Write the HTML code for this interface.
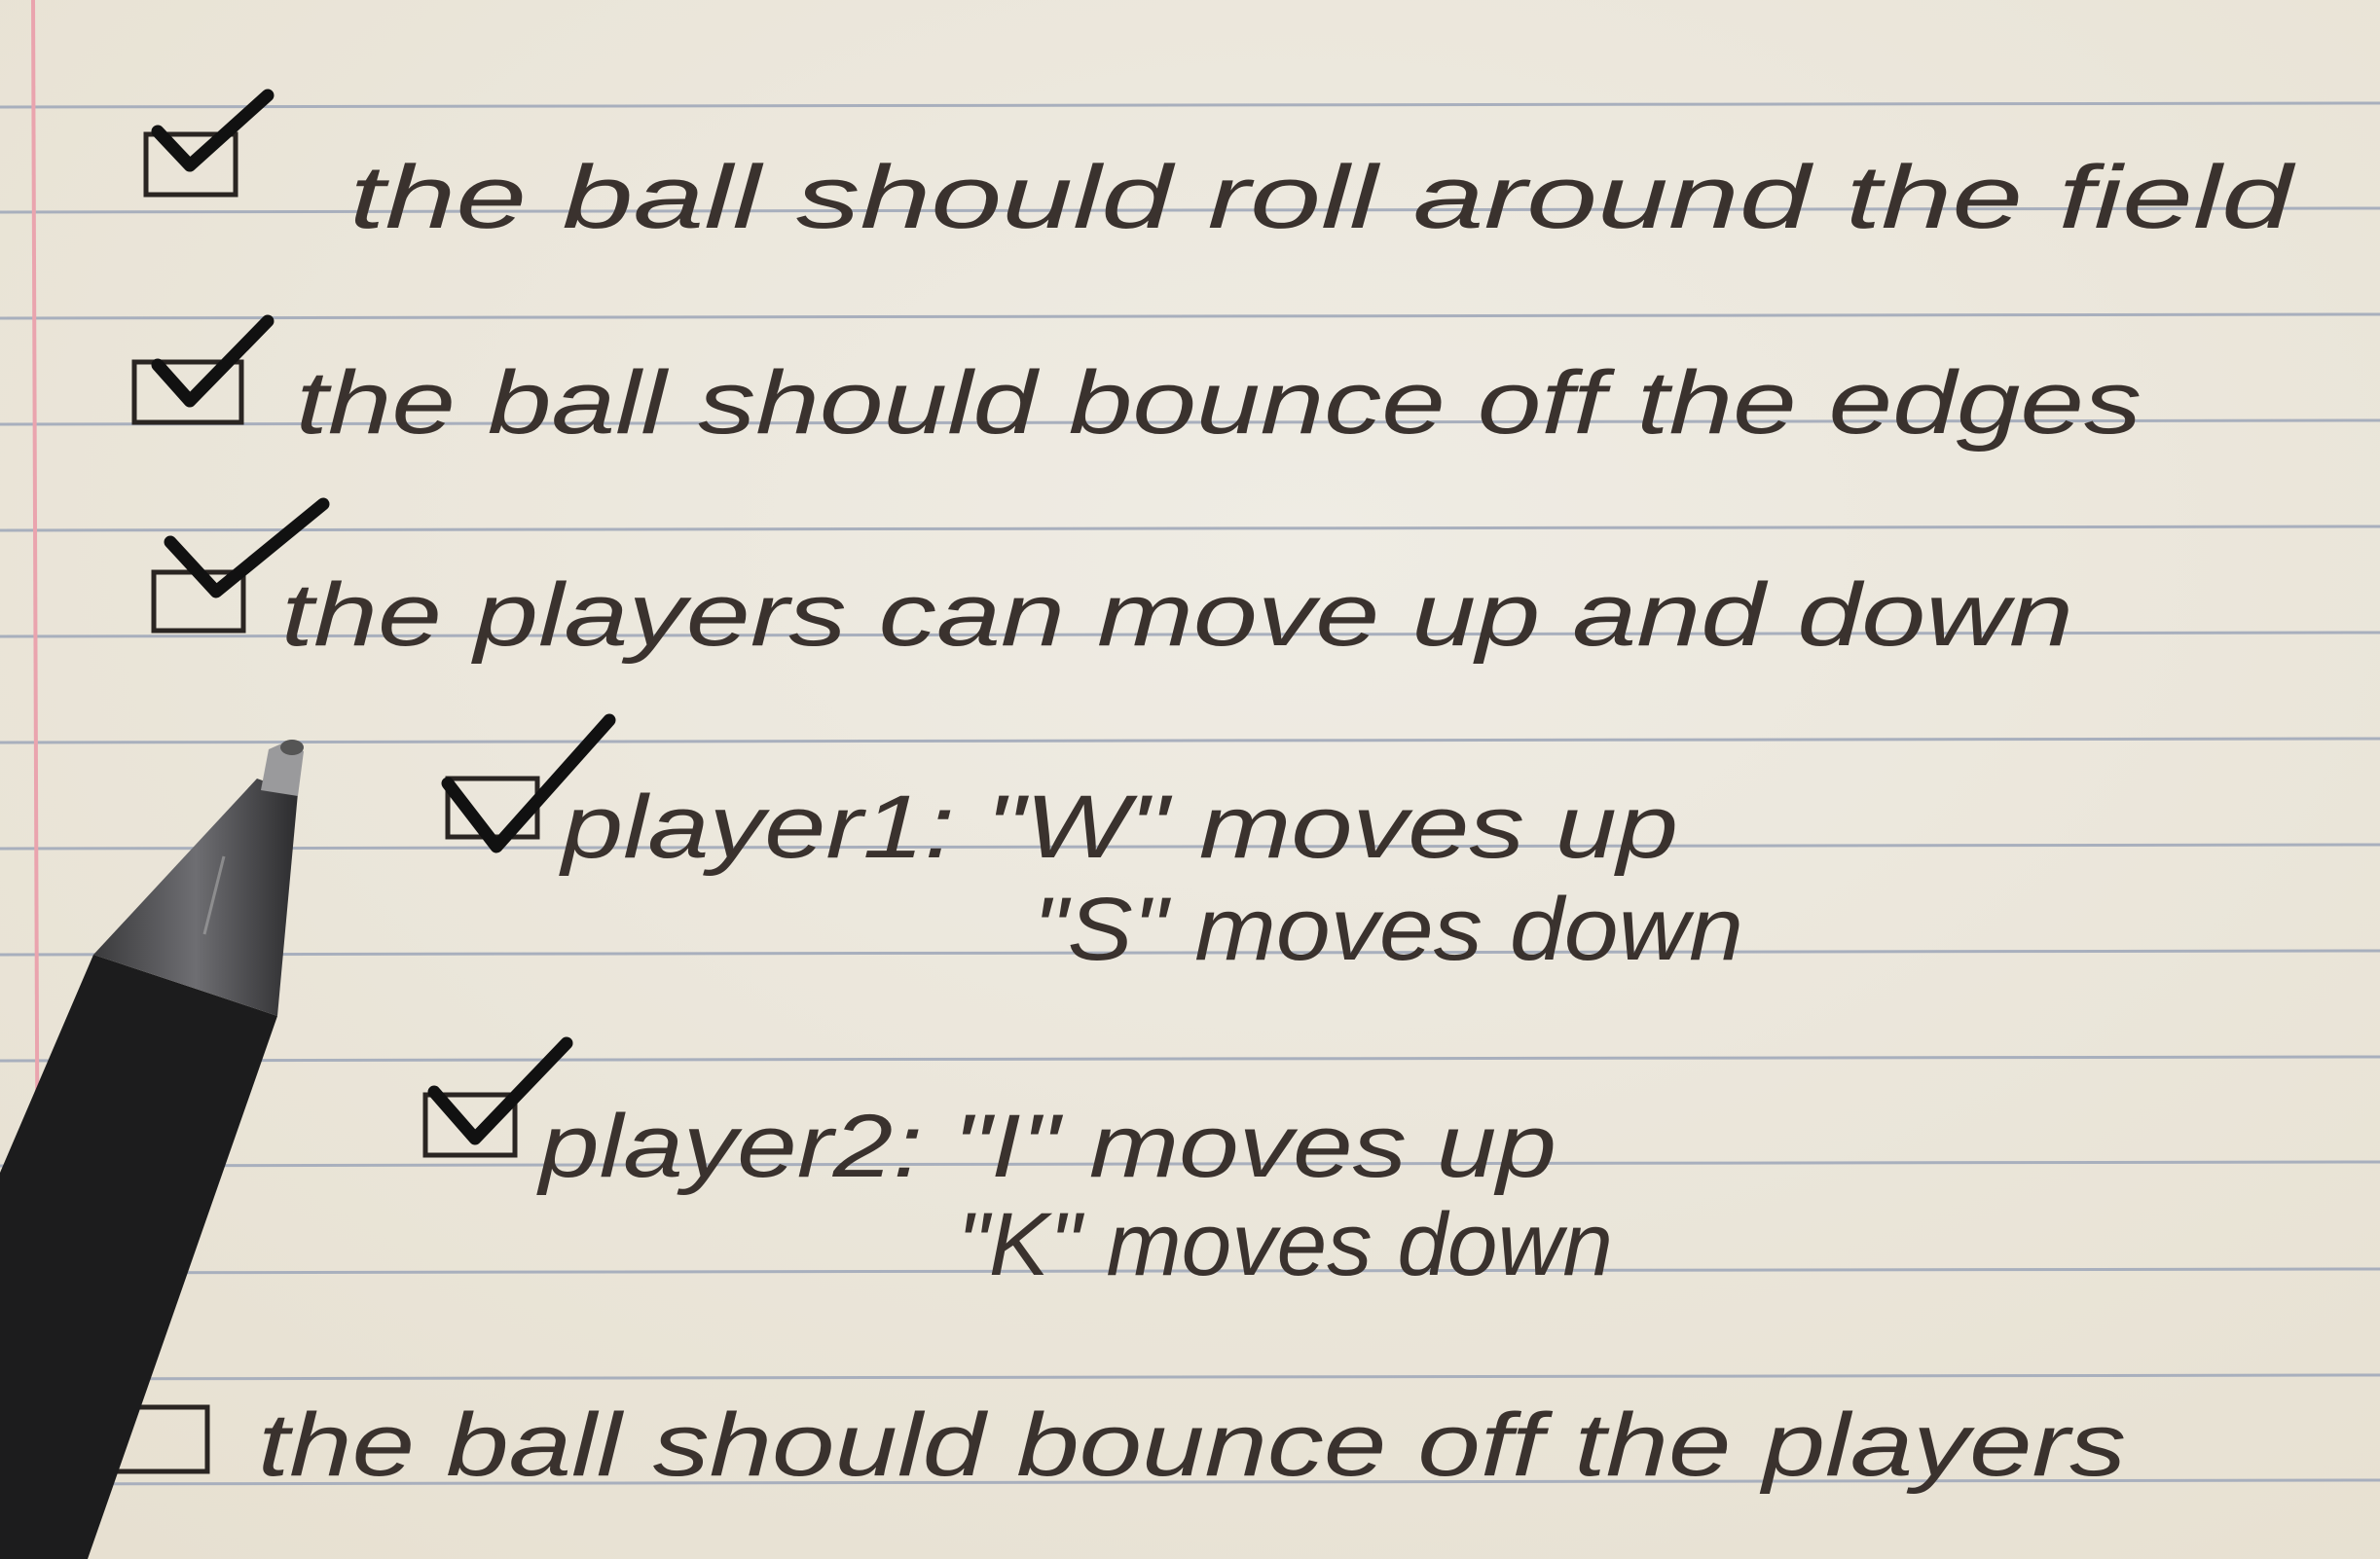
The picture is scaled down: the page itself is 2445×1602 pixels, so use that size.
<!DOCTYPE html>
<html><head><meta charset="utf-8"><style>
html,body{margin:0;padding:0;background:#ece8de;}
svg{display:block}
text{font-family:"Liberation Sans",sans-serif;fill:#3a322e;font-style:italic}
</style></head><body>
<svg width="2445" height="1602" viewBox="0 0 2445 1602" xmlns="http://www.w3.org/2000/svg">
<defs>
<radialGradient id="paper" cx="0.55" cy="0.35" r="0.9">
<stop offset="0" stop-color="#efece4"/><stop offset="1" stop-color="#e6dfcf"/>
</radialGradient>
<linearGradient id="cone" x1="0" y1="0" x2="1" y2="0">
<stop offset="0" stop-color="#3a3a3c"/><stop offset="0.5" stop-color="#6e6e72"/><stop offset="1" stop-color="#2c2c2e"/>
</linearGradient>
</defs>
<rect width="2445" height="1602" fill="url(#paper)"/>
<g stroke="#a8afbd" stroke-width="3">
<line x1="0" y1="110" x2="2445" y2="106"/>
<line x1="0" y1="218" x2="2445" y2="214"/>
<line x1="0" y1="327" x2="2445" y2="323"/>
<line x1="0" y1="436" x2="2445" y2="432"/>
<line x1="0" y1="545" x2="2445" y2="541"/>
<line x1="0" y1="654" x2="2445" y2="650"/>
<line x1="0" y1="763" x2="2445" y2="759"/>
<line x1="0" y1="872" x2="2445" y2="868"/>
<line x1="0" y1="981" x2="2445" y2="977"/>
<line x1="0" y1="1090" x2="2445" y2="1086"/>
<line x1="0" y1="1198" x2="2445" y2="1194"/>
<line x1="0" y1="1308" x2="2445" y2="1304"/>
<line x1="0" y1="1417" x2="2445" y2="1413"/>
<line x1="0" y1="1525" x2="2445" y2="1521"/>
</g>
<line x1="34" y1="0" x2="40" y2="1602" stroke="#eaa4ae" stroke-width="4"/>

<g fill="none" stroke="#2a2522" stroke-width="5">
<rect x="150" y="138" width="92" height="62"/>
<rect x="138" y="372" width="110" height="62"/>
<rect x="158" y="588" width="92" height="60"/>
<rect x="460" y="800" width="92" height="60"/>
<rect x="437" y="1125" width="92" height="62"/>
<rect x="117" y="1446" width="96" height="66"/>
</g>
<g fill="none" stroke="#111" stroke-width="13" stroke-linecap="round" stroke-linejoin="round">
<path d="M162 135 L195 170 L275 98"/>
<path d="M162 375 L195 412 L275 330"/>
<path d="M175 557 L222 608 L332 518"/>
<path d="M460 805 L510 870 L626 740"/>
<path d="M446 1122 L488 1170 L582 1072"/>
</g>

<text x="359" y="234" font-size="92" textLength="1996" lengthAdjust="spacingAndGlyphs">the ball should roll around the field</text>
<text x="304" y="445" font-size="92" textLength="1896" lengthAdjust="spacingAndGlyphs">the ball should bounce off the edges</text>
<text x="289" y="663" font-size="92" textLength="1841" lengthAdjust="spacingAndGlyphs">the players can move up and down</text>
<text x="577" y="881" font-size="92" textLength="1147" lengthAdjust="spacingAndGlyphs">player1: "W" moves up</text>
<text x="1061" y="986" font-size="92" textLength="730" lengthAdjust="spacingAndGlyphs">"S" moves down</text>
<text x="554" y="1209" font-size="92" textLength="1045" lengthAdjust="spacingAndGlyphs">player2: "I" moves up</text>
<text x="983" y="1310" font-size="92" textLength="674" lengthAdjust="spacingAndGlyphs">"K" moves down</text>
<text x="265" y="1516" font-size="92" textLength="1919" lengthAdjust="spacingAndGlyphs">the ball should bounce off the players</text>

<g>
<polygon points="96,981 285,1044 90,1602 0,1602 0,1205" fill="#1c1c1d"/>
<polygon points="96,981 285,1044 306,815 264,800" fill="url(#cone)"/>
<polygon points="268,812 306,818 312,772 294,762 276,770" fill="#9a9a9c"/>
<ellipse cx="300" cy="768" rx="12" ry="8" fill="#555"/>
<line x1="230" y1="880" x2="210" y2="960" stroke="#aaa" stroke-width="3" opacity="0.6"/>
</g>
</svg>
</body></html>
